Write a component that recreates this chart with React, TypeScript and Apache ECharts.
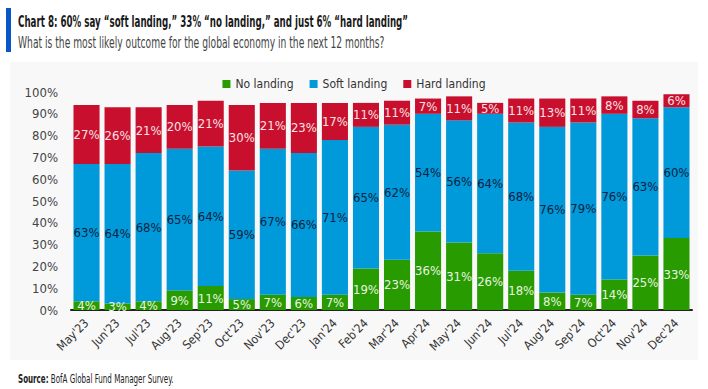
import React, { useEffect, useRef } from "react";
import * as echarts from "echarts";

const months = ["May'23", "Jun'23", "Jul'23", "Aug'23", "Sep'23", "Oct'23", "Nov'23", "Dec'23", "Jan'24", "Feb'24", "Mar'24", "Apr'24", "May'24", "Jun'24", "Jul'24", "Aug'24", "Sep'24", "Oct'24", "Nov'24", "Dec'24"];
const noLanding = [4, 3, 4, 9, 11, 5, 7, 6, 7, 19, 23, 36, 31, 26, 18, 8, 7, 14, 25, 33];
const softLanding = [63, 64, 68, 65, 64, 59, 67, 66, 71, 65, 62, 54, 56, 64, 68, 76, 79, 76, 63, 60];
const hardLanding = [27, 26, 21, 20, 21, 30, 21, 23, 17, 11, 11, 7, 11, 5, 11, 13, 11, 8, 8, 6];

const FONT = "'DejaVu Sans Condensed', 'Liberation Sans', sans-serif";

export default function App() {
  const ref = useRef<HTMLDivElement>(null);
  useEffect(() => {
    if (!ref.current) return;
    const chart = echarts.init(ref.current, null, { renderer: "svg" });
    const mk = (name: string, data: number[], color: string, labelColor: string) => ({
      name,
      type: "bar",
      stack: "total",
      data,
      barCategoryGap: "16%",
      itemStyle: { color },
      label: {
        show: true,
        position: "inside",
        formatter: "{c}%",
        color: labelColor,
        fontSize: 13,
        fontFamily: FONT,
      },
    });
    chart.setOption({
      animation: false,
      textStyle: { fontFamily: FONT },
      graphic: [
        { type: "rect", x: 10, y: 62, shape: { width: 688, height: 298 }, style: { fill: "#f8f8f8" }, z: -10 },
        { type: "rect", x: 6, y: 8, shape: { width: 5, height: 44 }, style: { fill: "#0a55c8" } },
        { type: "text", x: 18, y: 22, scaleX: 0.645, style: { text: "Chart 8: 60% say “soft landing,” 33% “no landing,” and just 6% “hard landing”", fontSize: 15, fontWeight: "bold", fill: "#1a1a1a", fontFamily: FONT, verticalAlign: "middle" } },
        { type: "text", x: 18, y: 43, scaleX: 0.68, style: { text: "What is the most likely outcome for the global economy in the next 12 months?", fontSize: 15, fill: "#444", fontFamily: FONT, verticalAlign: "middle" } },
        { type: "text", x: 18, y: 379, scaleX: 0.61, style: { text: "{b|Source:} BofA Global Fund Manager Survey.", fontSize: 13, fill: "#222", fontFamily: FONT, verticalAlign: "middle", rich: { b: { fontWeight: "bold", fontSize: 13, fill: "#222", fontFamily: FONT } } } },
      ],
      legend: {
        top: 73,
        left: "center",
        itemWidth: 8,
        itemHeight: 8,
        itemGap: 16,
        icon: "rect",
        textStyle: { fontSize: 12, color: "#333", fontFamily: FONT },
        data: ["No landing", "Soft landing", "Hard landing"],
      },
      grid: { left: 71, right: 16, top: 92, bottom: 79 },
      xAxis: {
        type: "category",
        data: months,
        axisLine: { lineStyle: { color: "#222", width: 2 } },
        axisTick: { show: false },
        axisLabel: { rotate: 45, fontSize: 12, color: "#333", margin: 11, interval: 0, fontFamily: FONT },
      },
      yAxis: {
        type: "value",
        min: 0,
        max: 100,
        interval: 10,
        splitLine: { show: false },
        axisLabel: { formatter: "{value}%", fontSize: 13, color: "#444", margin: 13, fontFamily: FONT },
      },
      series: [
        mk("No landing", noLanding, "#279b00", "#e8f5e0"),
        mk("Soft landing", softLanding, "#0099da", "#0d2240"),
        mk("Hard landing", hardLanding, "#c8102e", "#fbe0e4"),
      ],
    });
    return () => chart.dispose();
  }, []);
  return <div ref={ref} style={{ width: 708, height: 389, position: "absolute", left: 0, top: 0 }} />;
}
